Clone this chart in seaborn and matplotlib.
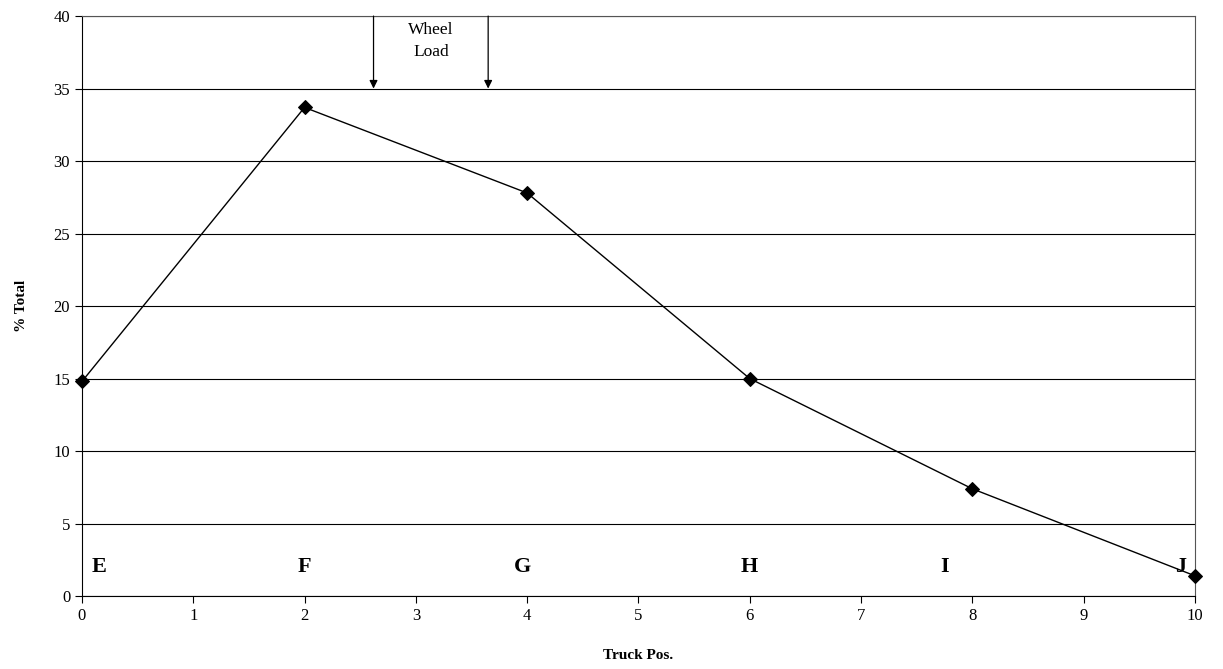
import matplotlib
matplotlib.use('Agg')
import matplotlib.pyplot as plt
import seaborn as sns
import pandas as pd

# values
truck_pos = [0, 2, 4, 6, 8, 10]
pct_total = [14.8, 33.7, 27.8, 15.0, 7.4, 1.4]
point_labels = ['E', 'F', 'G', 'H', 'I', 'J']
label_x = [0.15, 2.0, 3.96, 6.0, 7.75, 9.87]
wheel_load_x = [2.62, 3.65]

df = pd.DataFrame({'Truck Pos.': truck_pos, '% Total': pct_total})

sns.set_style('white')
plt.rcParams['font.family'] = ['Liberation Serif', 'DejaVu Serif']
plt.rcParams['text.color'] = 'black'
plt.rcParams['axes.labelcolor'] = 'black'
plt.rcParams['xtick.color'] = 'black'
plt.rcParams['ytick.color'] = 'black'

fig = plt.figure(figsize=(12.23, 6.69), dpi=100)
ax = fig.add_axes([0.067, 0.109, 0.910, 0.867])

sns.lineplot(data=df, x='Truck Pos.', y='% Total', ax=ax, color='black',
             linewidth=1.0, marker='D', markersize=7, markeredgecolor='black',
             clip_on=False, zorder=5)

ax.set_xlim(0, 10)
ax.set_ylim(0, 40)
ax.set_xticks(range(0, 11))
ax.set_yticks(range(0, 41, 5))
ax.yaxis.grid(True, color='black', linewidth=0.8)
ax.set_axisbelow(True)
for s in ax.spines.values():
    s.set_color('#555555')
    s.set_linewidth(0.8)
ax.spines['bottom'].set_color('black')
ax.spines['left'].set_color('black')
ax.tick_params(axis='both', direction='out', length=5, width=0.8, labelsize=12,
               color='black', bottom=True, left=True)

ax.set_xlabel('Truck Pos.', fontsize=11, fontweight='bold', labelpad=18)
ax.set_ylabel('% Total', fontsize=11, fontweight='bold', labelpad=18)

for lx, lab in zip(label_x, point_labels):
    ax.text(lx, 2.0, lab, fontsize=16, fontweight='bold', ha='center', va='center')

for wx in wheel_load_x:
    ax.annotate('', xy=(wx, 35), xytext=(wx, 40),
                arrowprops=dict(arrowstyle='-|>', color='black', lw=0.9,
                                mutation_scale=12, shrinkA=0, shrinkB=0))
ax.text(sum(wheel_load_x) / 2, 38.3, 'Wheel\nLoad', fontsize=12.5,
        ha='center', va='center', linespacing=1.5)

fig.savefig('out.png', dpi=100)
